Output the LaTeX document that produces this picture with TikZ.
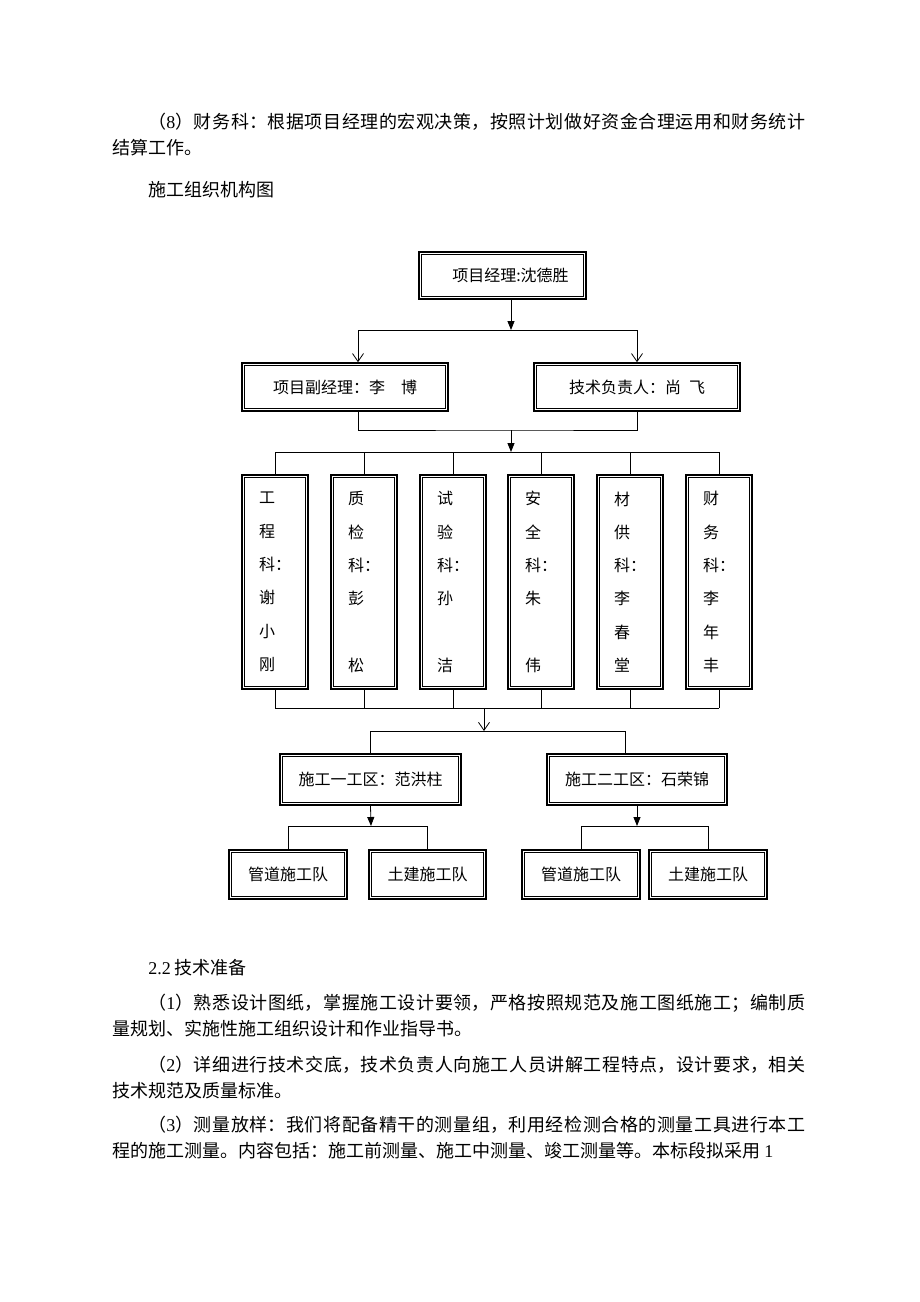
\documentclass[tikz,border=0pt]{standalone}
\usepackage{fontspec}
\setmainfont{Noto Sans CJK SC}
\newfontfamily\latinfont{Liberation Serif}
\usetikzlibrary{arrows.meta,positioning}
\XeTeXlinebreaklocale "zh"
\XeTeXlinebreakskip=0pt plus 1pt

\tikzset{
  dbox/.style={draw, line width=1.6pt, inner sep=0pt, font=\fontsize{16}{20}\selectfont},
  kbox/.style={dbox, minimum width=66pt, minimum height=214pt, align=left, font=\fontsize{16}{33.3}\selectfont},
  body/.style={anchor=north west, inner sep=0pt, text width=693pt, align=justify, font=\fontsize{18}{26}\selectfont},
  head/.style={anchor=north west, inner sep=0pt, font=\fontsize{18}{26}\selectfont},
  tri/.style={-{Triangle[length=9pt,width=7pt]}},
  barb/.style={-{Straight Barb[length=8pt,width=11pt]}},
}

\begin{document}
\begin{tikzpicture}[x=1pt,y=-1pt,line width=0.8pt]
\useasboundingbox (0,0) rectangle (920,1302);

\node[body] (p8) at (112,113) {\hspace*{2em}（{\latinfont 8}）财务科：根据项目经理的宏观决策，按照计划做好资金合理运用和财务统计\linebreak 结算工作。};
\node[head] (ttl) at (148,181) {施工组织机构图};

\node[dbox, minimum width=167pt, minimum height=47pt] (pm) at (502.5,275.5) {\hspace{16pt}项目经理:沈德胜};
\node[dbox, minimum width=206pt, minimum height=48pt] (dpm) at (345,387) {项目副经理：李\quad 博};
\node[dbox, minimum width=206pt, minimum height=48pt] (tech) at (637,387) {技术负责人：尚\enspace 飞};

\node[kbox] (k1) at (275,582) {工\\程\\科：\\谢\\小\\刚};
\node[kbox] (k2) at (364,582) {质\\检\\科：\\彭\\\mbox{}\\松};
\node[kbox] (k3) at (453,582) {试\\验\\科：\\孙\\\mbox{}\\洁};
\node[kbox] (k4) at (541,582) {安\\全\\科：\\朱\\\mbox{}\\伟};
\node[kbox] (k5) at (630,582) {材\\供\\科：\\李\\春\\堂};
\node[kbox] (k6) at (719,582) {财\\务\\科：\\李\\年\\丰};

\node[dbox, minimum width=181pt, minimum height=51pt] (z1) at (370.5,779.5) {施工一工区：范洪柱};
\node[dbox, minimum width=180pt, minimum height=51pt] (z2) at (637,779.5) {施工二工区：石荣锦};

\node[dbox, minimum width=118pt, minimum height=49pt] (t1) at (288,874.5) {管道施工队};
\node[dbox, minimum width=117pt, minimum height=49pt] (t2) at (427.5,874.5) {土建施工队};
\node[dbox, minimum width=118pt, minimum height=49pt] (t3) at (581,874.5) {管道施工队};
\node[dbox, minimum width=118pt, minimum height=49pt] (t4) at (708,874.5) {土建施工队};

\foreach \n in {pm,dpm,tech,k1,k2,k3,k4,k5,k6,z1,z2,t1,t2,t3,t4}
  \draw ([shift={(3.2,3.2)}]\n.north west) rectangle ([shift={(-3.2,-3.2)}]\n.south east);

\coordinate (j1) at (511,330);
\coordinate (j1a) at (358,330);
\coordinate (j2) at (511,430);
\coordinate (j3) at (511,452);
\coordinate (j4) at (484,708);
\coordinate (j5) at (484,731);
\coordinate (j5b) at (625,731);
\coordinate (j6) at (371,826);

\draw[tri] (pm.south -| j1) -- (j1);
\draw[barb] (j1) -| (j1a |- dpm.north);
\draw[barb] (j1) -| (tech.north);
\draw (j1a |- dpm.south) |- (j2) -| (tech.south);
\draw[tri] (j2) -- (j3);
\draw (k1.north |- j3) -- (k6.north |- j3);
\draw (k1.south |- j4) -- (k6.south |- j4);
\foreach \i in {1,...,6}
  \draw (k\i.north |- j3) -- (k\i.north) (k\i.south) -- (k\i.south |- j4);
\draw[barb] (j4) -- (j5);
\draw (z1.north) |- (j5b) -- (j5b |- z2.north);
\draw[tri] (z1.south) -- (j6);
\draw[tri] (z2.south) -- (z2.south |- j6);
\draw (t1.north) |- (t2.north |- j6) -- (t2.north);
\draw (t3.north) |- (t4.north |- j6) -- (t4.north);

\node[head] (s22) at (148,959) {{\latinfont 2.2} 技术准备};
\node[body] (p1) at (112,994) {\hspace*{2em}（{\latinfont 1}）熟悉设计图纸，掌握施工设计要领，严格按照规范及施工图纸施工；编制质\linebreak 量规划、实施性施工组织设计和作业指导书。};
\node[body] (p2) at (112,1056) {\hspace*{2em}（{\latinfont 2}）详细进行技术交底，技术负责人向施工人员讲解工程特点，设计要求，相关\linebreak 技术规范及质量标准。};
\node[body] (p3) at (112,1116) {\hspace*{2em}（{\latinfont 3}）测量放样：我们将配备精干的测量组，利用经检测合格的测量工具进行本工\linebreak 程的施工测量。内容包括：施工前测量、施工中测量、竣工测量等。本标段拟采用 {\latinfont 1}};
\end{tikzpicture}
\end{document}
